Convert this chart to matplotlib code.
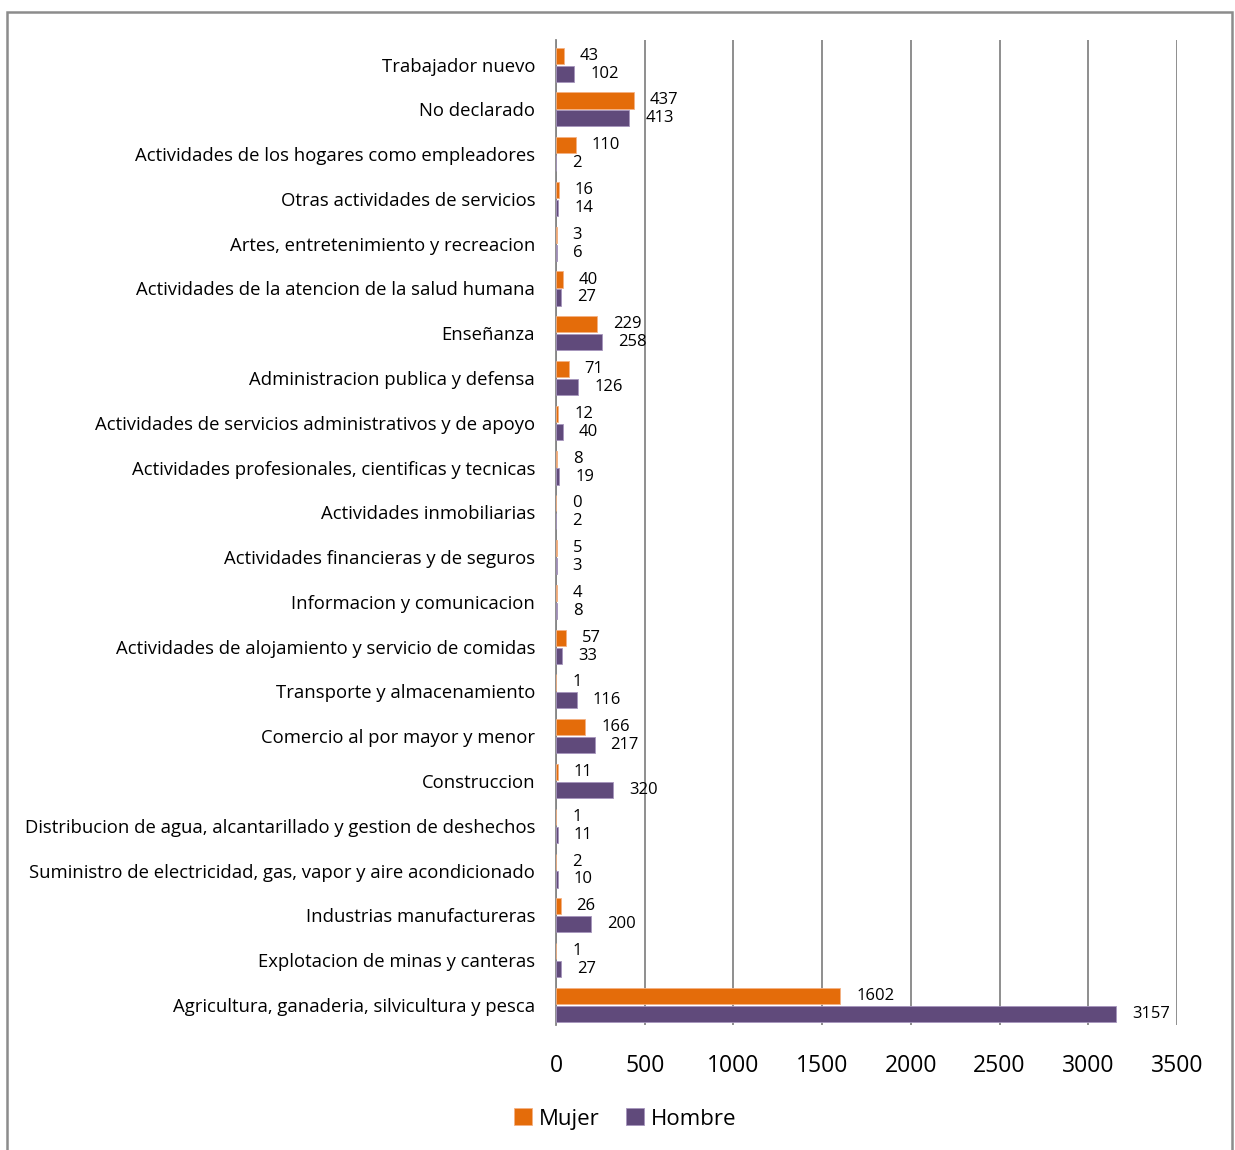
import matplotlib
matplotlib.use("Agg")
import matplotlib.pyplot as plt
from matplotlib.patches import Rectangle
import numpy as np

plt.rcParams['font.family'] = ['Open Sans', 'DejaVu Sans']

categories = [
    "Agricultura, ganaderia, silvicultura y pesca",
    "Explotacion de minas y canteras",
    "Industrias manufactureras",
    "Suministro de electricidad, gas, vapor y aire acondicionado",
    "Distribucion de agua, alcantarillado y gestion de deshechos",
    "Construccion",
    "Comercio al por mayor y menor",
    "Transporte y almacenamiento",
    "Actividades de alojamiento y servicio de comidas",
    "Informacion y comunicacion",
    "Actividades financieras y de seguros",
    "Actividades inmobiliarias",
    "Actividades profesionales, cientificas y tecnicas",
    "Actividades de servicios administrativos y de apoyo",
    "Administracion publica y defensa",
    "Enseñanza",
    "Actividades de la atencion de la salud humana",
    "Artes, entretenimiento y recreacion",
    "Otras actividades de servicios",
    "Actividades de los hogares como empleadores",
    "No declarado",
    "Trabajador nuevo",
]
mujer = [1602, 1, 26, 2, 1, 11, 166, 1, 57, 4, 5, 0, 8, 12, 71, 229, 40, 3, 16, 110, 437, 43]
hombre = [3157, 27, 200, 10, 11, 320, 217, 116, 33, 8, 3, 2, 19, 40, 126, 258, 27, 6, 14, 2, 413, 102]
xticks = [0, 500, 1000, 1500, 2000, 2500, 3000, 3500]
series_names = ["Mujer", "Hombre"]

c_mujer = "#E46C0A"
c_hombre = "#604A7B"
grid_c = "#868686"

fig = plt.figure(figsize=(12.35, 11.5), dpi=100)
ax = fig.add_axes([556/1235, 1 - 1025/1150, (1177-556)/1235, (1025-40)/1150])

y = np.arange(len(categories))
h = 0.36
off = 0.2
b1 = ax.barh(y + off, mujer, height=h, color=c_mujer, edgecolor="#F4B183", linewidth=0.6, label=series_names[0], zorder=3)
b2 = ax.barh(y - off, hombre, height=h, color=c_hombre, edgecolor="#A695BC", linewidth=0.6, label=series_names[1], zorder=3)

for bars, vals in ((b1, mujer), (b2, hombre)):
    for bar, v in zip(bars, vals):
        ax.annotate(str(v), xy=(v, bar.get_y() + bar.get_height()/2),
                    xytext=(16, 0), textcoords="offset pixels",
                    ha="left", va="center", fontsize=12, color="#000000", zorder=4)

ax.set_xlim(0, 3500)
ax.set_ylim(-0.45, len(categories) - 0.45)
ax.set_xticks(xticks)
ax.set_xticklabels([str(t) for t in xticks], fontsize=16.5)
ax.set_yticks(y)
ax.set_yticklabels(categories, fontsize=13.3)
ax.tick_params(axis="both", length=0)
ax.tick_params(axis="x", pad=21)
ax.tick_params(axis="y", pad=15)
ax.grid(axis="x", color=grid_c, linewidth=1.3, zorder=0)
ax.set_axisbelow(True)
for s in ["top", "right", "bottom"]:
    ax.spines[s].set_visible(False)
ax.spines["left"].set_color(grid_c)
ax.spines["left"].set_linewidth(1.3)

leg = fig.legend(handles=[b1, b2], labels=series_names, loc="center",
                 bbox_to_anchor=(625/1235, 1 - 1119/1150), ncol=2, frameon=False,
                 fontsize=16, handlelength=0.8, handleheight=0.8, handletextpad=0.3,
                 columnspacing=1.2)

fig.patches.append(Rectangle((7/1235, -0.02), (1232-7)/1235, 1 - 12/1150 + 0.02,
                             transform=fig.transFigure, fill=False,
                             edgecolor="#8C8C8C", linewidth=1.8, zorder=0))

fig.savefig("out.png", dpi=100)
